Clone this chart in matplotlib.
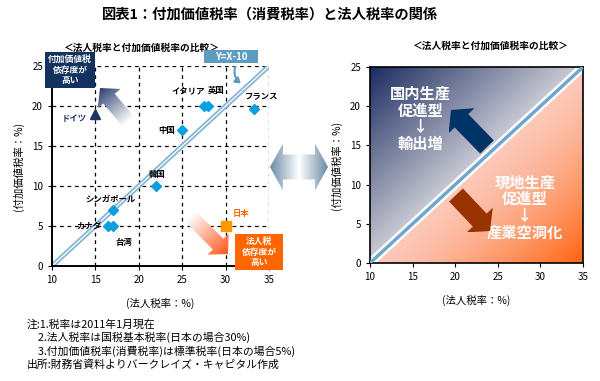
import numpy as np
import matplotlib
matplotlib.use("Agg")
import matplotlib.pyplot as plt
from matplotlib.patches import Polygon, FancyArrowPatch, Rectangle
from matplotlib.colors import to_rgb

plt.rcParams['font.family'] = ['Noto Sans CJK JP', 'DejaVu Sans']

# データ（法人税率, 付加価値税率）
countries = ['ドイツ', 'イタリア', '英国', 'フランス', '中国', '韓国',
             'シンガポール', 'カナダ', '台湾', '日本']
corp_tax = [15, 27.5, 28, 33.3, 25, 22, 17, 16.5, 17, 30]
vat_rate = [19, 20, 20, 19.6, 17, 10, 7, 5, 5, 5]
# ラベルの位置 (offset points, ha)
label_pos = [(-6, -3, 'right'), (-11, 11, 'center'), (6, 11, 'center'),
             (5, 9, 'center'), (-5, 0, 'right'), (1, 8, 'center'),
             (-2, 8, 'center'), (-5, 0, 'right'), (8, -12, 'center'),
             (11, 9, 'center')]
label_col = ['#1f3366'] + ['black'] * 8 + ['#ff6600']

xticks = [10, 15, 20, 25, 30, 35]
yticks = [0, 5, 10, 15, 20, 25]
ref_x = [10, 35]
ref_y = [x - 10 for x in ref_x]   # Y=X-10

notes = ['注:1.税率は2011年1月現在',
         '　2.法人税率は国税基本税率(日本の場合30%)',
         '　3.付加価値税率(消費税率)は標準税率(日本の場合5%)',
         '出所:財務省資料よりバークレイズ・キャピタル作成']

W, H = 600, 381
fig = plt.figure(figsize=(6, 3.81), dpi=100)


def px_axes(x0, y0, x1, y1):
    return fig.add_axes([x0 / W, 1 - y1 / H, (x1 - x0) / W, (y1 - y0) / H])


# ---------- 左のグラフ ----------
ax1 = px_axes(52, 66, 269, 266)
ax1.set_xlim(10, 35)
ax1.set_ylim(0, 25)
ax1.set_xticks(xticks)
ax1.set_yticks(yticks)
for v in xticks[1:]:
    ax1.axvline(v, color='black', ls=(0, (3, 3)), lw=0.9, zorder=1)
for v in yticks[1:]:
    ax1.axhline(v, color='black', ls=(0, (3, 3)), lw=0.9, zorder=1)
for s in ['top', 'right']:
    ax1.spines[s].set_visible(False)
for s in ['left', 'bottom']:
    ax1.spines[s].set_linewidth(1.4)
ax1.tick_params(labelsize=7, length=3, width=0.8)
ax1.plot(ref_x, ref_y, color='#86b6d6', lw=3.5, zorder=2, solid_capstyle='butt')
ax1.plot(ref_x, ref_y, color='white', lw=0.9, zorder=2, solid_capstyle='butt')

for i, (c, x, y) in enumerate(zip(countries, corp_tax, vat_rate)):
    if c == 'ドイツ':
        ax1.plot(x, y, marker='^', ms=7, color='#1f3366', zorder=4)
    elif c == '日本':
        ax1.plot(x, y, marker='s', ms=6.5, color='#ff9900', zorder=4)
    else:
        ax1.plot(x, y, marker='D', ms=5.5, color='#0aa0e0', zorder=4)
    dx, dy, ha = label_pos[i]
    ax1.annotate(c, (x, y), xytext=(dx, dy), textcoords='offset points',
                 ha=ha, va='center', fontsize=6, color=label_col[i],
                 fontweight='bold', zorder=5)
ax1.set_xlabel('(法人税率：%)', fontsize=7.5, labelpad=9)
ax1.set_ylabel('(付加価値税率：%)', fontsize=7.5, labelpad=6)

# ---------- 右のグラフ ----------
ax2 = px_axes(370, 67, 583, 263)
gx, gy = np.meshgrid(np.linspace(10, 35, 300), np.linspace(0, 25, 300))
up = np.clip((gy - (gx - 10)) / 25, 0, 1)[..., None]
lo = np.clip(((gx - 10) - gy) / 25, 0, 1)[..., None] ** 1.4
img_up = (1 - up) * np.array(to_rgb('#cbccd5')) + up * np.array(to_rgb('#1c2c60'))
img_lo = (1 - lo) * np.array(to_rgb('#fcc9ba')) + lo * np.array(to_rgb('#ff6410'))
img = np.where((gy >= gx - 10)[..., None], img_up, img_lo)
ax2.imshow(img, extent=(10, 35, 0, 25), origin='lower', aspect='auto', zorder=0)
ax2.plot(ref_x, ref_y, color='white', lw=6, zorder=2, solid_capstyle='butt')
ax2.plot(ref_x, ref_y, color='#6fa7cf', lw=2.5, zorder=3, solid_capstyle='butt')
ax2.set_xlim(10, 35)
ax2.set_ylim(0, 25)
ax2.set_xticks(xticks)
ax2.set_yticks(yticks)
ax2.tick_params(labelsize=7, length=3, width=0.8)
for s in ax2.spines.values():
    s.set_linewidth(1.2)
ax2.set_xlabel('(法人税率：%)', fontsize=7.5, labelpad=9)
ax2.set_ylabel('(付加価値税率：%)', fontsize=7.5, labelpad=6)
ax2.text(15.9, 18.4, '国内生産\n促進型\n↓\n輸出増', color='white', fontsize=11,
         fontweight='bold', ha='center', va='center', linespacing=1.05, zorder=5)
ax2.text(28.2, 7.1, '現地生産\n促進型\n↓\n産業空洞化', color='white', fontsize=11,
         fontweight='bold', ha='center', va='center', linespacing=1.05, zorder=5)

# ---------- 重ね描き（ピクセル座標） ----------
ov = fig.add_axes([0, 0, 1, 1])
ov.patch.set_alpha(0)
ov.axis('off')


def arrow_poly(tail, tip, shaft_w, head_w, head_len):
    tail = np.array(tail, float)
    tip = np.array(tip, float)
    d = tip - tail
    u = d / np.hypot(*d)
    n = np.array([-u[1], u[0]])
    base = tip - u * head_len
    return np.array([tail + n * shaft_w / 2, base + n * shaft_w / 2,
                     base + n * head_w / 2, tip, base - n * head_w / 2,
                     base - n * shaft_w / 2, tail - n * shaft_w / 2])


def grad_arrow(tail, tip, sw, hw, hl, c0, c1):
    pts = arrow_poly(tail, tip, sw, hw, hl)
    xmin, ymin = pts.min(0)
    xmax, ymax = pts.max(0)
    X, Y = np.meshgrid(np.linspace(xmin, xmax, 150), np.linspace(ymin, ymax, 150))
    d = np.array(tip, float) - np.array(tail, float)
    t = ((X - tail[0]) * d[0] + (Y - tail[1]) * d[1]) / (d @ d)
    t = np.clip(t, 0, 1)[..., None]
    im_ = (1 - t) * np.array(to_rgb(c0)) + t * np.array(to_rgb(c1))
    im = ov.imshow(im_, extent=(xmin, xmax, ymax, ymin), origin='upper',
                   aspect='auto', interpolation='bilinear', zorder=3)
    poly = Polygon(pts, closed=True, fc='none', ec='none')
    ov.add_patch(poly)
    im.set_clip_path(poly)


grad_arrow((128, 121), (100, 88), 15, 30, 14, '#ffffff', '#2e3f70')
grad_arrow((190, 216), (228, 254), 15, 30, 14, '#ffffff', '#ff5418')
grad_arrow((299, 167), (270, 167), 25, 47, 13, '#ffffff', '#6a8ba6')
grad_arrow((299, 167), (328, 167), 25, 47, 13, '#ffffff', '#6a8ba6')
grad_arrow((487, 147), (451, 110), 19, 36, 15, '#003366', '#003366')
grad_arrow((456, 195), (490, 231), 19, 36, 15, '#993300', '#993300')

# 注記ボックス
ov.add_patch(Rectangle((45, 52), 50, 36, fc='#14325f', ec='none', zorder=4))
ov.text(70, 70, '付加価値税\n依存度が\n高い', color='white', fontsize=6.3,
        fontweight='bold', ha='center', va='center', linespacing=1.2, zorder=5)
ov.add_patch(Rectangle((235, 234), 48, 36, fc='#ff6600', ec='none', zorder=4))
ov.text(259, 252, '法人税\n依存度が\n高い', color='white', fontsize=6.3,
        fontweight='bold', ha='center', va='center', linespacing=1.2, zorder=5)
ov.add_patch(Rectangle((204, 50), 54, 13, fc='#5b9cc0', ec='none', zorder=4))
ov.text(231, 56.5, 'Y=X-10', color='white', fontsize=7, fontweight='bold',
        ha='center', va='center', zorder=5)
ov.add_patch(FancyArrowPatch((236, 64), (243, 85), connectionstyle='arc3,rad=0.4',
                             arrowstyle='-|>,head_length=3,head_width=2',
                             color='#5b9cc0', lw=1.5, zorder=5))

# タイトル
ov.text(270, 15, '図表1：付加価値税率（消費税率）と法人税率の関係', fontsize=10.3,
        fontweight='bold', ha='center', va='center')
ov.text(141, 48, '＜法人税率と付加価値税率の比較＞', fontsize=7,
        fontweight='bold', ha='center', va='center')
ov.text(490, 46, '＜法人税率と付加価値税率の比較＞', fontsize=7,
        fontweight='bold', ha='center', va='center')
for i, s in enumerate(notes):
    ov.text(27, 324 + i * 13.5, s, fontsize=7.8, ha='left', va='center')

ov.set_xlim(0, W)
ov.set_ylim(H, 0)

fig.savefig('out.png', dpi=100)
